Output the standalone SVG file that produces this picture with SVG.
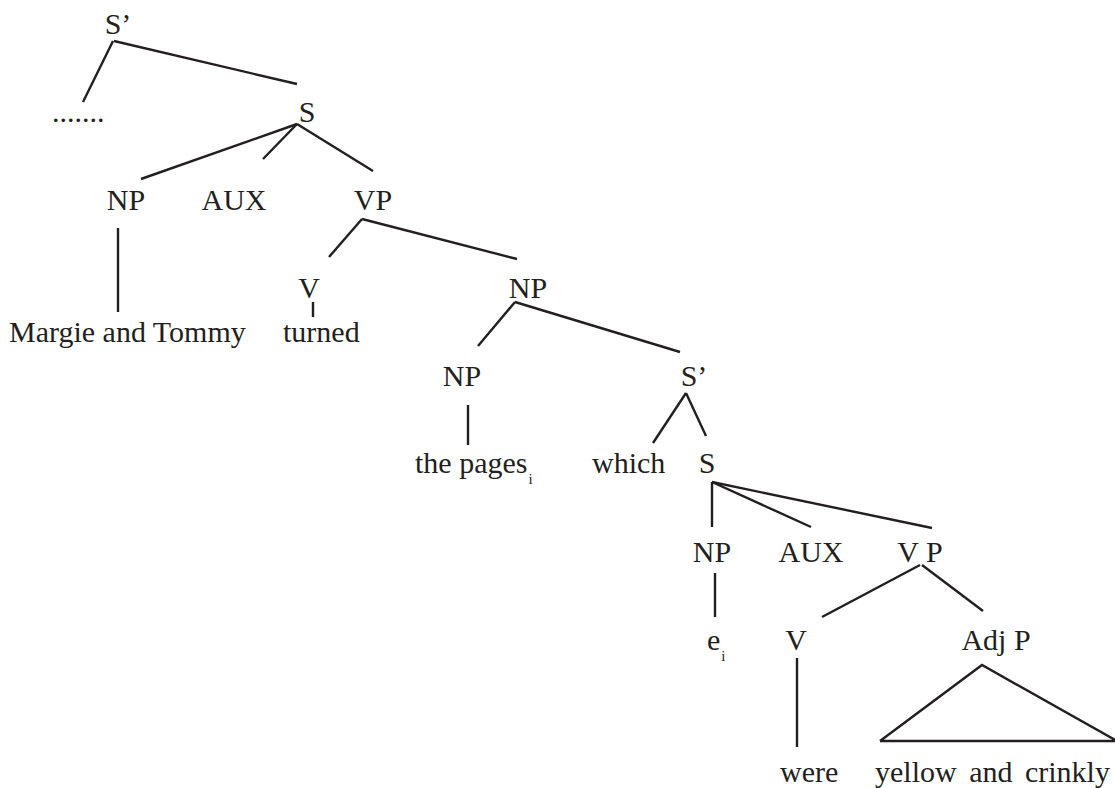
<svg xmlns="http://www.w3.org/2000/svg" width="1115" height="788" viewBox="0 0 1115 788">
  <style>
    text { font-family: "Liberation Serif", "Times New Roman", serif; font-size: 30px; fill: #231f20; }
    .sub { font-size: 15px; }
    .edges line, .edges polyline { stroke: #231f20; stroke-width: 2.4; fill: none; stroke-linecap: butt; }
  </style>
  <rect width="1115" height="788" fill="#ffffff"/>

  <!-- tree branches -->
  <g id="connectors" class="edges">
    <line x1="113" y1="41" x2="83" y2="102"/>
    <line x1="114" y1="41" x2="297" y2="84"/>
    <line x1="297" y1="124" x2="141" y2="179"/>
    <line x1="297" y1="124" x2="263" y2="159"/>
    <line x1="297" y1="124" x2="373" y2="171"/>
    <line x1="118" y1="228" x2="118" y2="312"/>
    <line x1="362" y1="219" x2="329" y2="257"/>
    <line x1="362" y1="219" x2="517" y2="259"/>
    <line x1="313" y1="302" x2="313" y2="317"/>
    <line x1="515" y1="302" x2="478" y2="346"/>
    <line x1="515" y1="302" x2="680" y2="352"/>
    <line x1="468" y1="405" x2="468" y2="445"/>
    <line x1="686" y1="393" x2="653" y2="443"/>
    <line x1="686" y1="393" x2="706" y2="436"/>
    <line x1="712" y1="482" x2="712" y2="527"/>
    <line x1="712" y1="482" x2="811" y2="527"/>
    <line x1="712" y1="482" x2="932" y2="528"/>
    <line x1="715" y1="573" x2="715" y2="617"/>
    <line x1="920" y1="565" x2="822" y2="617"/>
    <line x1="922" y1="565" x2="983" y2="611"/>
    <line x1="797" y1="658" x2="797" y2="747"/>
    <polyline points="880,741 982,665 1117,741 880,741"/>
  </g>

  <g id="n-sbar1"><text x="118" y="34" text-anchor="middle">S’</text></g>
  <g id="n-dots"><text x="52" y="122">.......</text></g>
  <g id="n-s1"><text x="307" y="122" text-anchor="middle">S</text></g>
  <g id="n-np1"><text x="126" y="210" text-anchor="middle">NP</text></g>
  <g id="n-aux1"><text x="234" y="210" text-anchor="middle">AUX</text></g>
  <g id="n-vp1"><text x="373" y="210" text-anchor="middle">VP</text></g>
  <g id="n-margie"><text x="9" y="342">Margie and Tommy</text></g>
  <g id="n-v1"><text x="309" y="298" text-anchor="middle">V</text></g>
  <g id="n-turned"><text x="283" y="342">turned</text></g>
  <g id="n-np2"><text x="528" y="298" text-anchor="middle">NP</text></g>
  <g id="n-np3"><text x="462" y="386" text-anchor="middle">NP</text></g>
  <g id="n-sbar2"><text x="694" y="386" text-anchor="middle">S’</text></g>
  <g id="n-pages"><text x="415" y="473">the pages<tspan class="sub" dx="1" dy="11">i</tspan></text></g>
  <g id="n-which"><text x="592" y="473">which</text></g>
  <g id="n-s2"><text x="707" y="473" text-anchor="middle">S</text></g>
  <g id="n-np4"><text x="712" y="562" text-anchor="middle">NP</text></g>
  <g id="n-aux2"><text x="811" y="562" text-anchor="middle">AUX</text></g>
  <g id="n-vp2"><text x="920" y="562" text-anchor="middle">V P</text></g>
  <g id="n-e"><text x="707" y="650">e<tspan class="sub" dx="1" dy="11">i</tspan></text></g>
  <g id="n-v2"><text x="796" y="650" text-anchor="middle">V</text></g>
  <g id="n-adjp"><text x="996" y="650" text-anchor="middle">Adj P</text></g>
  <g id="n-were"><text x="780" y="782">were</text></g>
  <g id="n-yellow"><text x="875" y="782" word-spacing="5">yellow and crinkly</text></g>
</svg>
